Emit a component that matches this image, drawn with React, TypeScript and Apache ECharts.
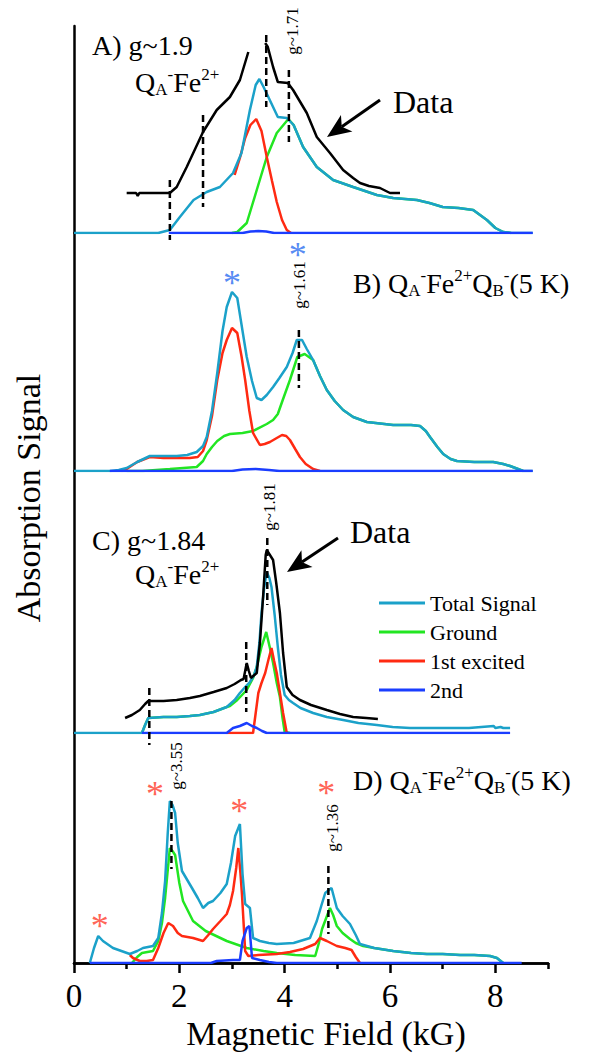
import React, { useEffect, useRef } from 'react';
import * as echarts from 'echarts';

const FONT = 'Liberation Serif';
const C_TOTAL = '#1ba1c9';
const C_GROUND = '#22e622';
const C_EXC = '#ff2a12';
const C_SECOND = '#1a3dff';
const C_STAR_B = '#2a6cf0';
const C_STAR_D = '#ff3a2a';

const seriesNames = ['Total Signal', 'Ground', '1st excited', '2nd'];
const xTicksMajor = [0, 2, 4, 6, 8];
const xTicksMinor = [1, 3, 5, 7, 9];

// ---------- Panel A : g~1.9 QA-Fe2+ ----------
const aTotal = [[0,0],[1.6,0],[1.82,3],[2.01,16],[2.27,33],[2.52,41],[2.77,46],[3.02,60],[3.18,80],[3.34,123],[3.45,148],[3.52,154],[3.6,146],[3.69,136],[3.87,116],[4.04,115],[4.17,108],[4.35,86],[4.61,66],[4.92,53],[5.3,46],[5.75,38],[6.06,35],[6.51,33],[6.75,30],[7.0,26],[7.3,25],[7.58,23],[7.84,13],[8.0,5],[8.15,1],[8.3,0],[8.71,0]];
const aGround = [[3.0,0],[3.1,1],[3.28,10],[3.47,43],[3.66,76],[3.85,100],[4.07,114],[4.17,108],[4.35,86],[4.61,66],[4.92,53],[5.3,46],[5.75,38],[6.06,35],[6.51,33],[6.75,30],[7.0,26],[7.3,25],[7.58,23],[7.84,13],[8.0,5],[8.15,1],[8.3,0]];
const aExcited = [[3.05,58],[3.15,75],[3.25,95],[3.35,108],[3.46,114],[3.56,102],[3.66,76],[3.76,52],[3.85,31],[3.95,13],[4.04,3],[4.12,0]];
const aSecond = [[1.8,0],[3.2,0],[3.35,1.5],[3.5,2],[3.65,1.5],[3.8,0],[8.71,0]];
const aData = [[1.0,40],[1.18,40],[1.21,37],[1.24,40],[1.82,40],[1.95,46],[2.14,66],[2.45,101],[2.71,123],[2.96,136],[3.15,153],[3.31,181],[3.45,null],[3.63,190],[3.68,186],[3.78,166],[3.87,151],[4.06,150],[4.16,143],[4.42,120],[4.61,96],[4.86,80],[5.11,63],[5.3,55],[5.43,50],[5.6,47],[5.81,45],[6.0,40],[6.19,40]];
const aDashX = [1.82, 2.45, 3.65, 4.08];
const aDashTop = [53, 118, 198, 163];
const aDashBottom = [-7, 26, 126, 91];

// ---------- Panel B : QA-Fe2+QB- (5 K) ----------
const bTotal = [[0,0],[0.68,0],[0.85,1],[1.0,3],[1.2,9],[1.44,15],[1.7,15],[1.95,15],[2.15,16],[2.33,19],[2.45,25],[2.52,34],[2.62,60],[2.72,98],[2.82,140],[2.9,164],[3.0,179],[3.1,173],[3.2,140],[3.28,114],[3.38,90],[3.47,73],[3.56,71],[3.66,76],[3.78,84],[3.9,93],[4.04,104],[4.15,118],[4.23,131],[4.33,131],[4.42,122],[4.54,111],[4.67,95],[4.8,81],[4.95,70],[5.11,61],[5.3,54],[5.56,49],[6.06,46],[6.4,46],[6.57,45],[6.68,40],[6.76,34],[6.9,24],[7.01,17],[7.15,12],[7.27,10],[7.6,9],[7.96,9],[8.15,7],[8.28,5],[8.43,2],[8.53,0],[8.71,0]];
const bGround = [[1.0,0],[1.3,0],[1.82,2],[2.33,4],[2.45,10],[2.52,17],[2.62,24],[2.72,30],[2.85,35],[2.96,37],[3.2,38],[3.4,40],[3.66,47],[3.78,51],[3.87,57],[3.97,72],[4.1,91],[4.24,114],[4.38,117],[4.46,114],[4.54,111],[4.67,95],[4.8,81],[4.95,70],[5.11,61],[5.3,54],[5.56,49],[6.06,46],[6.4,46],[6.57,45],[6.68,40],[6.76,34],[6.9,24],[7.01,17],[7.15,12],[7.27,10],[7.6,9],[7.96,9],[8.15,7],[8.28,5],[8.43,2],[8.53,0]];
const bExcited = [[0.9,0],[1.0,2],[1.2,9],[1.44,14],[1.7,13],[1.95,13],[2.2,13],[2.35,14],[2.45,20],[2.52,31],[2.62,55],[2.72,91],[2.82,118],[2.9,131],[3.0,143],[3.1,138],[3.18,115],[3.25,91],[3.33,60],[3.4,38],[3.53,26],[3.62,27],[3.72,29],[3.85,33],[3.95,36],[4.03,35],[4.1,31],[4.2,22],[4.29,14],[4.4,7],[4.54,2],[4.67,0]];
const bSecond = [[0.68,0],[3.0,0],[3.2,1.5],[3.45,2],[3.7,1],[3.9,0],[8.71,0]];
const bDashX = [4.27];
const bDashTop = [141];
const bDashBottom = [83];
const bStars = [[3.0,193],[4.25,221]];

// ---------- Panel C : g~1.84 QA-Fe2+ ----------
const cTotal = [[0,0],[1.29,0],[1.35,8],[1.41,15],[1.7,16],[1.95,16],[2.2,17],[2.39,18],[2.65,21],[2.9,26],[3.05,33],[3.15,40],[3.25,46],[3.34,51],[3.42,58],[3.47,66],[3.52,90],[3.56,120],[3.61,145],[3.66,161],[3.71,155],[3.75,146],[3.81,118],[3.87,86],[3.93,58],[4.0,38],[4.08,33],[4.16,30],[4.3,25],[4.54,20],[4.8,16],[5.11,13],[5.4,10],[5.75,8],[6.05,6],[6.38,5],[7.0,5],[7.5,5],[7.97,7],[8.0,5],[8.1,6],[8.15,5],[8.28,5]];
const cGround = [[1.29,0],[1.35,8],[1.41,15],[1.7,16],[1.95,16],[2.2,17],[2.39,18],[2.65,21],[2.9,26],[2.96,27],[3.1,33],[3.28,43],[3.4,55],[3.47,66],[3.56,86],[3.65,101],[3.72,85],[3.78,70],[3.85,50],[3.91,36],[3.96,15],[4.0,1],[4.1,0]];
const cExcited = [[2.9,0],[3.4,0],[3.45,20],[3.5,40],[3.56,50],[3.63,60],[3.7,75],[3.75,85],[3.8,72],[3.85,60],[3.91,40],[3.97,20],[4.04,0]];
const cSecond = [[1.29,0],[2.9,0],[3.02,5],[3.15,7],[3.28,10],[3.38,7],[3.47,5],[3.57,2],[3.66,0],[8.28,0]];
const cData = [[0.97,15],[1.1,18],[1.25,23],[1.35,29],[1.41,32],[1.7,32],[1.95,33],[2.2,35],[2.39,37],[2.65,41],[2.9,45],[3.05,49],[3.17,53],[3.22,54],[3.28,70],[3.32,62],[3.36,55],[3.47,60],[3.53,90],[3.59,136],[3.64,178],[3.66,183],[3.72,178],[3.78,173],[3.84,150],[3.91,120],[3.97,80],[4.04,46],[4.15,38],[4.29,33],[4.5,28],[4.8,23],[5.05,19],[5.3,16],[5.55,15],[5.77,14]];
const cDashX = [1.43, 3.27, 3.67];
const cDashTop = [45, 91, 195];
const cDashBottom = [-12, 21, 128];

// ---------- Panel D : QA-Fe2+QB- (5 K) ----------
const dTotal = [[0.3,0],[0.38,15],[0.46,27],[0.55,22],[0.74,15],[0.9,12],[1.06,9],[1.2,12],[1.31,15],[1.5,17],[1.6,25],[1.67,50],[1.73,82],[1.78,130],[1.82,162],[1.87,158],[1.92,150],[1.97,120],[2.05,92],[2.24,75],[2.35,65],[2.45,55],[2.55,60],[2.64,62],[2.78,70],[2.9,79],[2.98,100],[3.06,127],[3.15,139],[3.2,89],[3.25,59],[3.34,55],[3.4,25],[3.53,22],[3.7,20],[3.85,19],[4.17,20],[4.48,25],[4.61,42],[4.7,58],[4.77,70],[4.89,75],[4.99,55],[5.1,47],[5.24,39],[5.35,28],[5.43,19],[5.7,15],[6.06,12],[6.4,10],[6.7,9],[7.0,9],[7.33,8],[7.6,8],[7.9,7],[8.03,5],[8.15,0]];
const dGround = [[1.1,0],[1.2,6],[1.29,10],[1.5,12],[1.6,22],[1.67,40],[1.73,65],[1.82,115],[1.87,112],[1.92,108],[2.0,80],[2.07,62],[2.26,42],[2.5,32],[2.7,27],[2.9,22],[3.28,15],[3.6,12],[3.85,10],[4.2,8],[4.58,7],[4.65,20],[4.71,34],[4.86,55],[4.92,48],[4.99,37],[5.1,30],[5.24,24],[5.35,20],[5.49,17],[5.7,15],[6.06,12],[6.4,10],[6.7,9],[7.0,9],[7.33,8],[7.6,8],[7.9,7],[8.03,5],[8.15,0]];
const dExcited = [[1.06,8],[1.12,5],[1.25,2],[1.38,2],[1.5,3],[1.6,15],[1.7,30],[1.79,40],[1.88,37],[1.97,30],[2.05,27],[2.26,25],[2.45,22],[2.55,28],[2.64,34],[2.78,42],[2.9,49],[2.96,58],[3.02,72],[3.08,95],[3.12,115],[3.16,90],[3.19,68],[3.22,40],[3.25,12],[3.31,7],[3.5,8],[3.85,9],[4.1,11],[4.35,14],[4.58,19],[4.67,25],[4.8,22],[4.99,17],[5.15,15],[5.27,13],[5.35,6],[5.43,0]];
const dSecond = [[0.3,0],[2.6,0],[2.71,2],[3.02,3],[3.15,3],[3.2,22],[3.28,35],[3.33,37],[3.38,5],[3.53,3],[3.7,1],[3.85,0],[8.5,0]];
const dDashX = [1.85, 4.83];
const dDashTop = [162, 97];
const dDashBottom = [94, 29];
const dStars = [[0.49,42],[1.54,174],[3.14,157],[4.79,175]];

// layout of the four stacked panels (pixels)
const panelTop = [26, 233, 471, 733];
const panelHeight = [207, 238, 262, 230];

function curve(name: string, data: any[], i: number, color: string, z: number) {
  return {
    type: 'line', name, data, xAxisIndex: i, yAxisIndex: i,
    showSymbol: false, symbol: 'none', connectNulls: false, silent: true,
    lineStyle: { color, width: 2.5 }, itemStyle: { color }, z,
  };
}

function dashes(xs: number[], tops: number[], bottoms: number[], i: number) {
  return xs.map((x, k) => ({
    type: 'line', name: 'marker', xAxisIndex: i, yAxisIndex: i,
    data: [[x, tops[k]], [x, bottoms[k]]], showSymbol: false, symbol: 'none', clip: false, silent: true,
    lineStyle: { color: '#000', width: 2.5, type: [7, 4] }, z: 10,
  }));
}

function stars(data: number[][], i: number, color: string) {
  return {
    type: 'scatter', name: 'star', xAxisIndex: i, yAxisIndex: i, data, symbolSize: 1, clip: false, silent: true,
    itemStyle: { color: 'rgba(0,0,0,0)' },
    label: { show: true, position: 'inside', formatter: '*', fontSize: 36, fontFamily: FONT, color, offset: [0, 5] },
    z: 11,
  };
}

function arrow(x1: number, y1: number, x2: number, y2: number) {
  const dx = x2 - x1, dy = y2 - y1;
  const len = Math.sqrt(dx * dx + dy * dy);
  const ux = dx / len, uy = dy / len;
  const px = -uy, py = ux;
  const hl = 24, hw = 10, notch = 6;
  const bx = x2 - ux * hl, by = y2 - uy * hl;
  const nx = x2 - ux * (hl - notch), ny = y2 - uy * (hl - notch);
  return [
    { type: 'line', shape: { x1, y1, x2: nx, y2: ny }, style: { stroke: '#000', lineWidth: 3 } },
    { type: 'polygon', shape: { points: [[x2, y2], [bx + px * hw, by + py * hw], [nx, ny], [bx - px * hw, by - py * hw]] }, style: { fill: '#000' } },
  ];
}

const richStyles = {
  m: { fontSize: 28, fontFamily: FONT, lineHeight: 32, fill: '#000' },
  sub: { fontSize: 17, fontFamily: FONT, lineHeight: 17, verticalAlign: 'bottom', fill: '#000' },
  sup: { fontSize: 17, fontFamily: FONT, lineHeight: 17, verticalAlign: 'top', fill: '#000' },
};

function plain(x: number, y: number, text: string, size: number, align = 'left') {
  return { type: 'text', x, y, style: { text, fontSize: size, fontFamily: FONT, fill: '#000', align, verticalAlign: 'middle' } };
}
function rich(x: number, y: number, text: string) {
  return { type: 'text', x, y, style: { text, rich: richStyles, fontSize: 28, fontFamily: FONT, fill: '#000', align: 'left', verticalAlign: 'middle' } };
}
function gLabel(x: number, y: number, text: string) {
  return { type: 'text', x, y, rotation: Math.PI / 2, style: { text, fontSize: 17, fontFamily: FONT, fill: '#000', align: 'center', verticalAlign: 'middle' } };
}

export default function App() {
  const ref = useRef<HTMLDivElement>(null);
  useEffect(() => {
    if (!ref.current) return;
    const chart = echarts.init(ref.current, undefined, { renderer: 'svg' });

    const grids = panelTop.map((t, i) => ({ left: 74, right: 44, top: t, height: panelHeight[i] }));
    const yAxes = panelHeight.map((h, i) => ({
      gridIndex: i, type: 'value', min: 0, max: h,
      axisLine: { show: true, onZero: false, lineStyle: { color: '#000', width: 2.5 } },
      axisTick: { show: false }, axisLabel: { show: false }, splitLine: { show: false },
    }));
    const xAxes: any[] = [0, 1, 2].map((i) => ({ gridIndex: i, type: 'value', min: 0, max: 9, show: false, splitLine: { show: false } }));
    xAxes.push({
      gridIndex: 3, type: 'value', min: 0, max: 9, position: 'bottom',
      axisLine: { show: true, onZero: false, lineStyle: { color: '#000', width: 2.5 } },
      axisTick: { show: true, customValues: xTicksMajor, length: 10, lineStyle: { color: '#000', width: 2.5 } },
      axisLabel: { show: true, customValues: xTicksMajor, fontSize: 33, fontFamily: FONT, color: '#000', margin: 16 },
      splitLine: { show: false },
    });
    xAxes.push({
      gridIndex: 3, type: 'value', min: 0, max: 9, position: 'bottom',
      axisLine: { show: true, onZero: false, lineStyle: { color: '#000', width: 2.5 } },
      axisTick: { show: true, customValues: xTicksMinor, length: 6, lineStyle: { color: '#000', width: 2.5 } },
      axisLabel: { show: false }, splitLine: { show: false },
    });

    const panels = [
      { total: aTotal, ground: aGround, exc: aExcited, second: aSecond },
      { total: bTotal, ground: bGround, exc: bExcited, second: bSecond },
      { total: cTotal, ground: cGround, exc: cExcited, second: cSecond },
      { total: dTotal, ground: dGround, exc: dExcited, second: dSecond },
    ];
    const series: any[] = [];
    panels.forEach((p, i) => {
      series.push(curve(seriesNames[1], p.ground, i, C_GROUND, 2));
      series.push(curve(seriesNames[2], p.exc, i, C_EXC, 3));
      series.push(curve(seriesNames[0], p.total, i, C_TOTAL, 4));
      series.push(curve(seriesNames[3], p.second, i, C_SECOND, 5));
    });
    series.push(curve('Data A', aData, 0, '#000', 6));
    series.push(curve('Data C', cData, 2, '#000', 6));
    series.push(...dashes(aDashX, aDashTop, aDashBottom, 0));
    series.push(...dashes(bDashX, bDashTop, bDashBottom, 1));
    series.push(...dashes(cDashX, cDashTop, cDashBottom, 2));
    series.push(...dashes(dDashX, dDashTop, dDashBottom, 3));
    series.push(stars(bStars, 1, C_STAR_B));
    series.push(stars(dStars, 3, C_STAR_D));

    const graphic: any[] = [
      plain(92, 45, 'A) g~1.9', 28),
      rich(135, 82, '{m|Q}{sub|A}{sup|-}{m|Fe}{sup|2+}'),
      plain(393, 102, 'Data', 32),
      ...arrow(380, 100, 327, 137),
      gLabel(292, 31, 'g~1.71'),
      rich(353, 283, '{m|B) Q}{sub|A}{sup|-}{m|Fe}{sup|2+}{m|Q}{sub|B}{sup|-}{m|(5 K)}'),
      gLabel(299, 285, 'g~1.61'),
      plain(92, 540, 'C) g~1.84', 28),
      rich(135, 574, '{m|Q}{sub|A}{sup|-}{m|Fe}{sup|2+}'),
      plain(350, 532, 'Data', 32),
      ...arrow(338, 538, 287, 572),
      gLabel(269, 507, 'g~1.81'),
      rich(353, 780, '{m|D) Q}{sub|A}{sup|-}{m|Fe}{sup|2+}{m|Q}{sub|B}{sup|-}{m|(5 K)}'),
      gLabel(176, 766, 'g~3.55'),
      gLabel(332, 828, 'g~1.36'),
      { type: 'text', x: 28, y: 498, rotation: Math.PI / 2, style: { text: 'Absorption Signal', fontSize: 34, fontFamily: FONT, fill: '#000', align: 'center', verticalAlign: 'middle' } },
      plain(326, 1033, 'Magnetic Field (kG)', 34, 'center'),
    ];

    chart.setOption({
      animation: false,
      backgroundColor: '#fff',
      grid: grids,
      xAxis: xAxes,
      yAxis: yAxes,
      legend: {
        data: seriesNames, orient: 'vertical', left: 374, top: 587,
        icon: 'rect', itemWidth: 46, itemHeight: 3, itemGap: 7, selectedMode: false,
        textStyle: { fontSize: 22, fontFamily: FONT, color: '#000', lineHeight: 22 },
      },
      series,
      graphic,
    });
    return () => chart.dispose();
  }, []);
  return <div ref={ref} style={{ position: 'absolute', left: 0, top: 0, width: 592, height: 1059 }} />;
}
